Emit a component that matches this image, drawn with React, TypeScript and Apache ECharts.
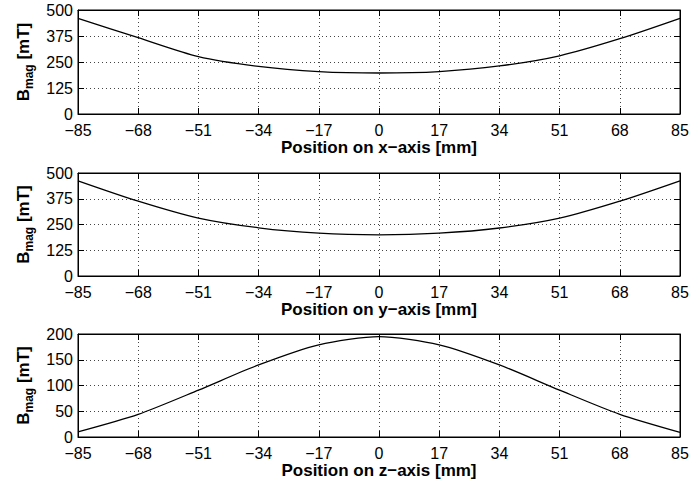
import React, { useEffect, useRef } from "react";
import * as echarts from "echarts";

const positions = [-85, -68, -51, -34, -17, 0, 17, 34, 51, 68, 85];
const bxValues = [460, 367, 276, 229, 204, 197, 204, 231, 280, 362, 460];
const byValues = [462, 363, 281, 234, 208, 200, 208, 233, 281, 363, 462];
const bzValues = [10, 44, 91, 140, 179, 195, 179, 140, 91, 44, 9];
const axisNames = ["Position on x\u2212axis [mm]", "Position on y\u2212axis [mm]", "Position on z\u2212axis [mm]"];
const yMaxes = [500, 500, 200];
const yIntervals = [125, 125, 50];

const FONT = "Liberation Sans, Arial, Helvetica, sans-serif";

export default function App() {
  const ref = useRef<HTMLDivElement>(null);
  useEffect(() => {
    document.body.style.margin = "0";
    if (!ref.current) return;
    const chart = echarts.init(ref.current, undefined, { renderer: "svg" });
    const tops = [10, 173, 334];
    const heights = [104, 103, 103];
    const seriesData = [bxValues, byValues, bzValues];
    const fmt = (v: number) => (v < 0 ? "\u2212" + Math.abs(v) : String(v));
    const grids = tops.map((t, i) => ({
      left: 78,
      right: 13,
      top: t,
      height: heights[i],
      show: true,
      borderColor: "#000",
      borderWidth: 1,
      backgroundColor: "#fff",
    }));
    const gridLine = { show: true, lineStyle: { color: "#444", type: [1, 3] as any, width: 1 } };
    const xAxes: any[] = [];
    const yAxes: any[] = [];
    tops.forEach((_, i) => {
      xAxes.push({
        type: "value",
        gridIndex: i,
        position: "bottom",
        min: -85,
        max: 85,
        interval: 17,
        name: axisNames[i],
        nameLocation: "middle",
        nameGap: 25,
        nameTextStyle: { fontFamily: FONT, fontSize: 17, fontWeight: "bold", color: "#000", lineHeight: 17 },
        axisLine: { show: true, onZero: false, lineStyle: { color: "#000", width: 1 } },
        axisTick: { show: true, inside: true, length: 6, lineStyle: { color: "#000" } },
        axisLabel: { formatter: fmt, fontFamily: FONT, fontSize: 16, color: "#000", margin: 10, lineHeight: 12, showMinLabel: true, showMaxLabel: true },
        splitLine: gridLine,
      });
      xAxes.push({
        type: "value",
        gridIndex: i,
        position: "top",
        min: -85,
        max: 85,
        interval: 17,
        axisLine: { show: true, onZero: false, lineStyle: { color: "#000", width: 1 } },
        axisTick: { show: true, inside: true, length: 6, lineStyle: { color: "#000" } },
        axisLabel: { show: false },
        splitLine: { show: false },
      });
      yAxes.push({
        type: "value",
        gridIndex: i,
        position: "left",
        min: 0,
        max: yMaxes[i],
        interval: yIntervals[i],
        name: "{b|B}{s|mag}{b| [mT]}",
        nameLocation: "middle",
        nameRotate: 90,
        nameGap: 38,
        nameTextStyle: {
          color: "#000",
          rich: {
            b: { fontFamily: FONT, fontSize: 17, fontWeight: "bold", color: "#000", lineHeight: 24, verticalAlign: "middle" },
            s: { fontFamily: FONT, fontSize: 12, fontWeight: "bold", color: "#000", lineHeight: 24, verticalAlign: "bottom" },
          },
        },
        axisLine: { show: true, onZero: false, lineStyle: { color: "#000", width: 1 } },
        axisTick: { show: true, inside: true, length: 6, lineStyle: { color: "#000" } },
        axisLabel: { fontFamily: FONT, fontSize: 16, color: "#000", margin: 5, lineHeight: 11, showMinLabel: true, showMaxLabel: true },
        splitLine: gridLine,
      });
      yAxes.push({
        type: "value",
        gridIndex: i,
        position: "right",
        min: 0,
        max: yMaxes[i],
        interval: yIntervals[i],
        axisLine: { show: true, onZero: false, lineStyle: { color: "#000", width: 1 } },
        axisTick: { show: true, inside: true, length: 6, lineStyle: { color: "#000" } },
        axisLabel: { show: false },
        splitLine: { show: false },
      });
    });
    const series = seriesData.map((vals, i) => ({
      type: "line",
      xAxisIndex: i * 2,
      yAxisIndex: i * 2,
      data: positions.map((p, j) => [p, vals[j]]),
      showSymbol: false,
      symbol: "none",
      smooth: 0.25,
      lineStyle: { color: "#000", width: 1.3 },
    }));
    chart.setOption({
      animation: false,
      backgroundColor: "#fff",
      grid: grids,
      xAxis: xAxes,
      yAxis: yAxes,
      series,
    });
    return () => chart.dispose();
  }, []);
  return <div ref={ref} style={{ width: 693, height: 484 }} />;
}
